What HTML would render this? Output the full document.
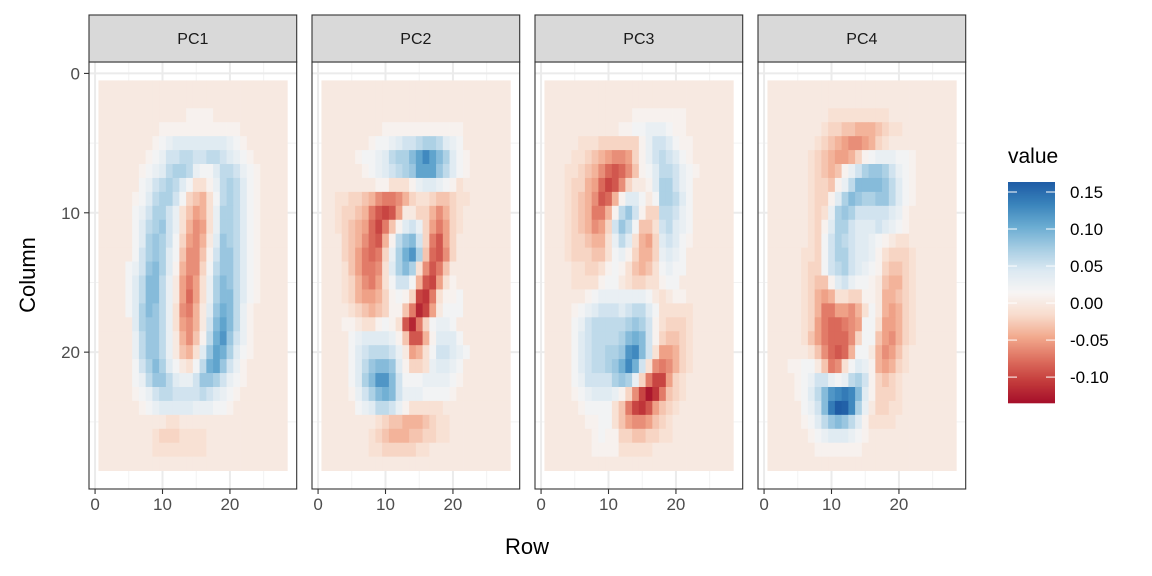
<!DOCTYPE html>
<html><head><meta charset="utf-8"><style>
html,body{margin:0;padding:0;background:#fff;}
svg{display:block;font-family:"Liberation Sans",Arial,sans-serif;}
</style></head><body>
<svg id="chart" width="1152" height="576" viewBox="0 0 1152 576" xmlns="http://www.w3.org/2000/svg"></svg>
<script>
// ---- data: each panel is 28 rows (Column 1..28) of 28 coded cells (Row 1..28)
// code: '.'=0, '0'=0.01, 'A'..'P' = 0.02..0.17, 'a'..'n' = 0.00..-0.13
const panelNames = ["PC1","PC2","PC3","PC4"];
const pc1Rows = ["","",".............0000",".........000000000000","........0ABCCCCCCCCBA0",".......0ABDDEEDDEEDCBA0","......0ABCEFFEBAACEEDBA0","......ABDEFECAbb0BEFECA0",".....0ACEFFDAcdebAEFECA0",".....ABDFFDBbdfebBFFECA0",".....ACEFGDBbegfbBFFECA0",".....ACFGFDAcfgeaCGFECA0",".....ADFGFCAdggd0DGGECA0","....ABDGHFC0eggcAEGGECA0","....ACEHHEBafhfbBFHGECA0","....ACEHHEBafifbBFHHECA0","....ACFHGEBbgheaCGIHEB0",".....CFGGEBbfgeaDHJHEB0",".....BEGGEBaegd0EIKGDB0",".....BEGGEBadebCGJIFCA0",".....ADFHFCAabAEIJGDB0",".....ABEGGECBBDGGFDBA0",".....0ABDEEDDDDEDCBA0","......0ABCCCCCBBBAA0","........aabbaaa","........bcccbbbb","........bbbbbbbb",""];
const pc2Rows = ["","","",".........000000000000",".......0AABCDDEFFECBA",".....0AABCEFFHJLJHFCA0","......0ABCDEFGJJJGECA0","......aa00bbb0BCCBA0b","..bbccdeghhgecbbcddcbb","..bccdehjkjfaaccegecb","..bcdefikhd0CDBcfhfcb","...cdegije0EGHDchjfca","...cdfhihcBFIKFdijgca","...bdfhhgbCFHFbgjhda","...bceghfbADDAejkfb0","...bceffec0A0cklhb00A","...abcdedc00dhmkfaAAA","...00abb0A0bjmhcABBA","....ABCCCCB0djje0CCCA","....ACDEEEDBafebADDCBA","....ACEGHHGC0ccbBCCBA","....ACFHKKHDAAABBBBA0","....0BDFHIHDBBBAAAA0",".....ABCEEDB0bbbbba","......aabcddeeedcbba",".......bcdeeeddccbb",".......bbcccccbb",""];
const pc3Rows = ["","",".............00000000","...........00AABBBA00","....abbbcccccc0BDDCA00","...abbcdefggfc0BDEDCA0","...bbcdegijigd0ACEEDBA0","...bccefikjgcaa0CFFDBA","...bcdegjie0CCAaAFFECA","...bcdehhe0EGD0ccEEDBA","...bcdegfcDGEAddbDECBA","...bccdeebBECbefcCDCA0","...bcccddbAB0ceecBCBA","....bbccb0A0bdedbABAA","....bbbb0AAabccbb0AAa",".....a0ABBBBBBBAaba00a","....0ABCDDDCDEECAbbbbba","....ABDEEEEEFGFD0bcccb","....ACDEEEEFHIHD0cddcb","....ACDEEFFGKLHDbffecb","....ACDEEFGILIDbghgecb","....ABDDDDFGFBchkkfcb","....0ABCCCB0cgknlhdcb",".....0AAAAbdhkljfdcb","......00AAbdfggfdcb",".......0A00ccddccbb",".......0000bbbbb",""];
const pc4Rows = ["","",".........bbbbbbbbb",".......abccddeeedcbba","......abcdefggfecbaa","......bcdeffec0ABBBAA0","......bcded0BDFGGFDBA0","......bccd0BEHHHHGECA0","......bcc0CFHGFFGGECA0",".....abcbBFGFDDDDDCB0",".....abc0CFFDCCCDCBA0",".....abcADFEDCCBA0abba",".....bbcADFFDCCB0bcccb",".....bccADEFDCBA0cddcb",".....bcdd0CDBAA0adeecb",".....bcefebbcc00aeedcb",".....bcehhffgebAaefecb",".....bcfhiihgfAAbffecb","....abdfhiiigcAAdfgecb","....aabdgijieAAaegfdb","...00AAadhgbACB0efecb","....0ABDDBABEFD0cdcba","....0ACEHKLMLHC0cccb",".....ABDHMPOLFBaccbb",".....0ACEGHGEC0bbbb","......0ABCCCBA0a",".......0000000",""];
const xTicks = [0,10,20];
const yTicks = [0,10,20];
const legendTicks = [0.15,0.10,0.05,0.00,-0.05,-0.10];
const legendLabels = ["0.15","0.10","0.05","0.00","-0.05","-0.10"];

const NS="http://www.w3.org/2000/svg";
const svg=document.getElementById('chart');
function mk(tag,attrs,parent){const e=document.createElementNS(NS,tag);for(const k in attrs)e.setAttribute(k,attrs[k]);(parent||svg).appendChild(e);return e;}
function decode(ch){
  if(ch==='.')return 0;
  if(ch==='0')return 0.01;
  const c=ch.charCodeAt(0);
  if(c>=65&&c<=90)return 0.01*(c-64)+0.01;
  return -0.01*(c-96)+0.01;
}
const vMin=-0.135,vMax=0.1635;
const stops=["#A50F2A","#C43C3C","#DE7160","#F2AA8E","#F8DCCD","#F7F5F4","#DCE9F2","#A6CDE3","#6AACD2","#3A84BC","#1F5CA5"];
function hex(h){return [parseInt(h.substr(1,2),16),parseInt(h.substr(3,2),16),parseInt(h.substr(5,2),16)];}
function color(v){
  let t=(v-vMin)/(vMax-vMin);t=Math.max(0,Math.min(1,t));
  const p=t*(stops.length-1);const i=Math.min(stops.length-2,Math.floor(p));const f=p-i;
  const a=hex(stops[i]),b=hex(stops[i+1]);
  return 'rgb('+a.map((x,k)=>Math.round(x+(b[k]-x)*f)).join(',')+')';
}
const panelLefts=[89,312,535,758];
const panelW=207.7, plotTop=62, plotBottom=489;
const xd=[-0.9,29.9], yd=[-0.82,29.82];
function xs(p,v){return panelLefts[p]+(v-xd[0])/(xd[1]-xd[0])*panelW;}
function ys(v){return plotTop+(v-yd[0])/(yd[1]-yd[0])*(plotBottom-plotTop);}
const allRows=[pc1Rows,pc2Rows,pc3Rows,pc4Rows];

for(let p=0;p<4;p++){
  const g=mk('g',{});
  
  
  const L=panelLefts[p];
  mk('rect',{x:L,y:plotTop,width:panelW,height:plotBottom-plotTop,fill:'#fff'},g);
  [5,15,25].forEach(v=>{
    mk('line',{x1:xs(p,v),x2:xs(p,v),y1:plotTop,y2:plotBottom,stroke:'#F2F2F2','stroke-width':1},g);
    mk('line',{x1:L,x2:L+panelW,y1:ys(v),y2:ys(v),stroke:'#F2F2F2','stroke-width':1},g);
  });
  xTicks.forEach(v=>{mk('line',{x1:xs(p,v),x2:xs(p,v),y1:plotTop,y2:plotBottom,stroke:'#EBEBEB','stroke-width':2},g);});
  yTicks.forEach(v=>{mk('line',{x1:L,x2:L+panelW,y1:ys(v),y2:ys(v),stroke:'#EBEBEB','stroke-width':2},g);});
  const rows=allRows[p];
  for(let r=0;r<28;r++){
    const s=(rows[r]||"").padEnd(28,'.');
    for(let c=0;c<28;c++){
      const v=decode(s[c]);
      const rc=c+1, rr=r+1;
      const x0=xs(p,rc-0.5),x1=xs(p,rc+0.5),y0=ys(rr-0.5),y1=ys(rr+0.5);
      const t=mk('rect',{x:x0.toFixed(2),y:y0.toFixed(2),width:(x1-x0+0.4).toFixed(2),height:(y1-y0+0.4).toFixed(2),fill:color(v)},g);
      
      
    }
  }
  mk('rect',{x:L,y:plotTop,width:panelW,height:plotBottom-plotTop,fill:'none',stroke:'#333','stroke-width':1.1},g);
  const st=mk('rect',{x:L,y:15,width:panelW,height:plotTop-15,fill:'#D9D9D9',stroke:'#333','stroke-width':1.1});
  
  
  const stt=mk('text',{x:L+panelW/2,y:44,'text-anchor':'middle','font-size':16,fill:'#1A1A1A'});
  stt.textContent=panelNames[p];
  
  
  xTicks.forEach(v=>{
    mk('line',{x1:xs(p,v),x2:xs(p,v),y1:plotBottom,y2:plotBottom+5,stroke:'#333','stroke-width':1.1});
    const tx=mk('text',{x:xs(p,v),y:plotBottom+21,'text-anchor':'middle','font-size':17,fill:'#4D4D4D'});
    tx.textContent=v;
    
    
  });
}
yTicks.forEach(v=>{
  mk('line',{x1:84,x2:89,y1:ys(v),y2:ys(v),stroke:'#333','stroke-width':1.1});
  const ty=mk('text',{x:80,y:ys(v)+6,'text-anchor':'end','font-size':17,fill:'#4D4D4D'});
  ty.textContent=v;
  
  
});
const xt=mk('text',{x:527,y:554,'text-anchor':'middle','font-size':22,fill:'#000'});
xt.textContent='Row';


const yt=mk('text',{x:0,y:0,'text-anchor':'middle','font-size':22,fill:'#000',transform:'translate(35,275) rotate(-90)'});
yt.textContent='Column';


const lg=mk('g',{});


const lt=mk('text',{x:1008,y:163,'font-size':21,fill:'#000'},lg);
lt.textContent='value';
const bx=1008,bw=47,bTop=182,bBot=403;
function ly(v){return bBot-(v-vMin)/(vMax-vMin)*(bBot-bTop);}
for(let i=0;i<221;i++){
  const v=vMin+(i+0.5)/221*(vMax-vMin);
  mk('rect',{x:bx,y:(bBot-(i+1)).toFixed(1),width:bw,height:1.3,fill:color(v)},lg);
}
legendTicks.forEach((v,i)=>{
  const y=ly(v);
  mk('line',{x1:bx,x2:bx+9,y1:y,y2:y,stroke:'#fff','stroke-width':1},lg);
  mk('line',{x1:bx+bw-9,x2:bx+bw,y1:y,y2:y,stroke:'#fff','stroke-width':1},lg);
  const t=mk('text',{x:1070,y:y+6,'font-size':17,fill:'#000'},lg);
  t.textContent=legendLabels[i];
  
  
});
</script>
</body></html>
